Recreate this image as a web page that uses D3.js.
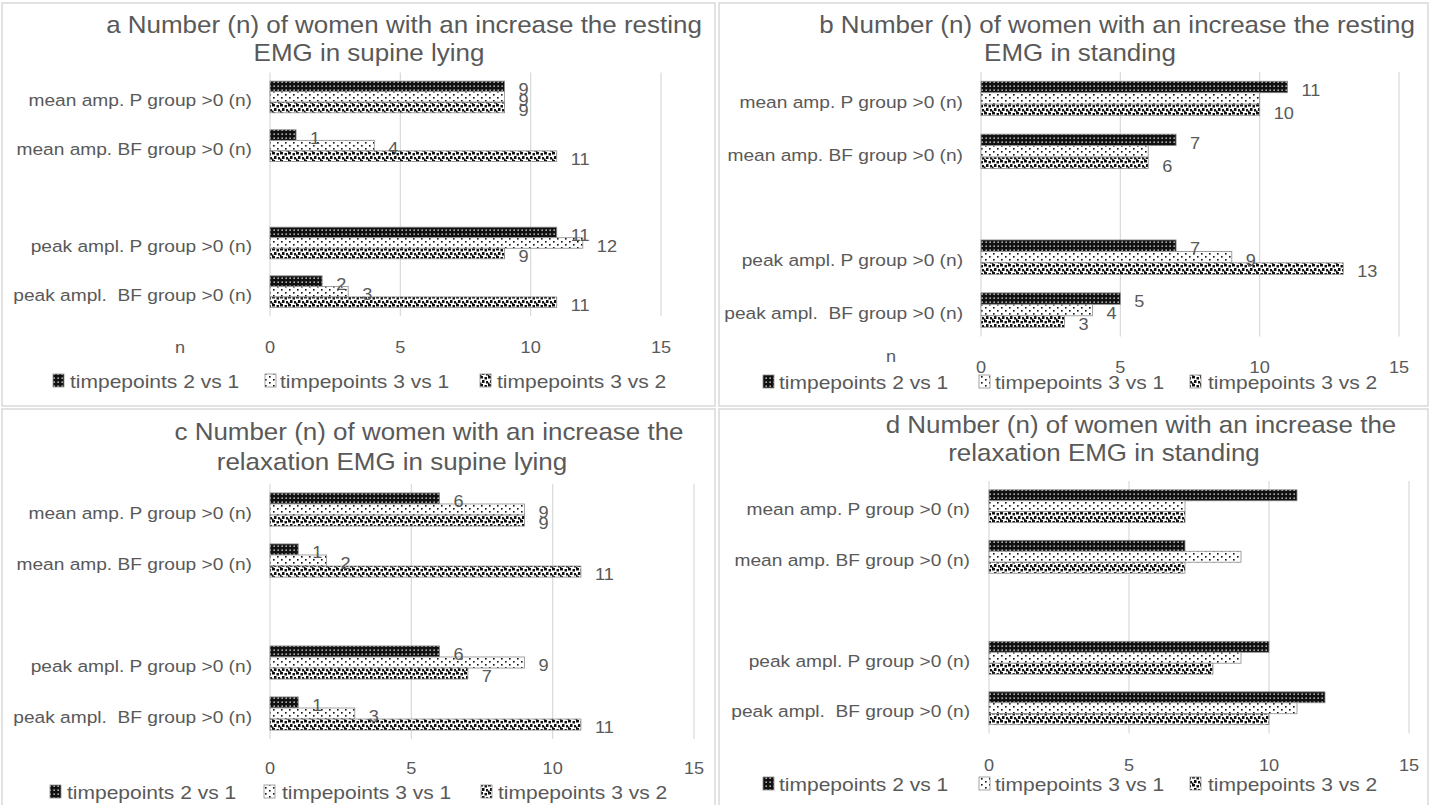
<!DOCTYPE html>
<html>
<head>
<meta charset="utf-8">
<script src="https://cdn.jsdelivr.net/npm/d3@7/dist/d3.min.js"></script>
<style>
  body { margin: 0; background: #fff; }
  svg { display: block; font-family: "Liberation Sans", Arial, sans-serif; }
  text { fill: #595959; white-space: pre; }
</style>
</head>
<body>
<svg width="1431" height="805"></svg>
<script>
// categories and series
const categories = ["mean amp. P group >0 (n)", "mean amp. BF group >0 (n)", "peak ampl. P group >0 (n)", "peak ampl.  BF group >0 (n)"];
const seriesNames = ["timpepoints 2 vs 1", "timpepoints 3 vs 1", "timpepoints 3 vs 2"];
const xTicks = [0, 5, 10, 15];

// a - resting EMG, supine lying
const aTitle = ["a Number (n) of women with an increase the resting", "EMG in supine lying"];
const a21 = [9, 1, 11, 2];
const a31 = [9, 4, 12, 3];
const a32 = [9, 11, 9, 11];

// b - resting EMG, standing
const bTitle = ["b Number (n) of women with an increase the resting", "EMG in standing"];
const b21 = [11, 7, 7, 5];
const b31 = [10, 6, 9, 4];
const b32 = [10, 6, 13, 3];
const bLabelMask = [[1, 1, 1, 1], [0, 0, 1, 1], [1, 1, 1, 1]];

// c - relaxation EMG, supine lying
const cTitle = ["c Number (n) of women with an increase the", "relaxation EMG in supine lying"];
const c21 = [6, 1, 6, 1];
const c31 = [9, 2, 9, 3];
const c32 = [9, 11, 7, 11];

// d - relaxation EMG, standing (no data labels)
const dTitle = ["d Number (n) of women with an increase the", "relaxation EMG in standing"];
const d21 = [11, 7, 10, 12];
const d31 = [7, 9, 9, 11];
const d32 = [7, 7, 8, 10];

const svg = d3.select("svg");
const gridCol = "#d9d9d9";
const sx = 1.1; // text in the picture is a little wider than the font

// text helper, slightly stretched horizontally
function addText(parent, x, y, str, size, anchor) {
    return parent.append("g")
        .attr("transform", "translate(" + x + "," + y + ") scale(" + sx + ",1)")
        .append("text")
        .attr("text-anchor", anchor || "start")
        .attr("dominant-baseline", "central")
        .style("font-size", size + "px")
        .text(str);
}

//patterns for the three series
const defs = svg.append("defs");
const p1 = defs.append("pattern").attr("id", "pat0").attr("patternUnits", "userSpaceOnUse")
    .attr("width", 4).attr("height", 4);
p1.append("rect").attr("width", 4).attr("height", 4).attr("fill", "#111");
p1.append("rect").attr("x", 1.5).attr("y", 1.5).attr("width", 1.3).attr("height", 1.3).attr("fill", "#fff");

const p2 = defs.append("pattern").attr("id", "pat1").attr("patternUnits", "userSpaceOnUse")
    .attr("width", 8).attr("height", 6);
p2.append("rect").attr("width", 8).attr("height", 6).attr("fill", "#fff");
p2.append("rect").attr("x", 1).attr("y", 1).attr("width", 1.6).attr("height", 1.6).attr("fill", "#111");
p2.append("rect").attr("x", 5).attr("y", 4).attr("width", 1.6).attr("height", 1.6).attr("fill", "#111");

const p3 = defs.append("pattern").attr("id", "pat2").attr("patternUnits", "userSpaceOnUse")
    .attr("width", 8).attr("height", 8);
p3.append("rect").attr("width", 8).attr("height", 8).attr("fill", "#fff");
[[0, 0, 3, 2.5], [4.5, 1, 2.5, 2.5], [2, 4, 2.5, 3], [6, 5, 2, 2.5], [0, 6.5, 1.5, 1.5]].forEach(s => {
    p3.append("rect").attr("x", s[0]).attr("y", s[1]).attr("width", s[2]).attr("height", s[3]).attr("fill", "#111");
});

const panels = [
    { title: aTitle, series: [a21, a31, a32], mask: null, frame: [2, 3, 713, 403],
      xr: [270, 661], yr: [72.6, 316], labelRight: 252,
      titlePos: [[404, 25], [369, 53]], tickY: 347, nPos: [180, 347],
      legY: 381, legSw: [53, 265, 480], legTx: [70, 280, 497] },
    { title: bTitle, series: [b21, b31, b32], mask: bLabelMask, frame: [719, 3, 709, 403],
      xr: [981, 1399], yr: [72, 336.5], labelRight: 963,
      titlePos: [[1117, 25], [1080, 53]], tickY: 367, nPos: [891, 356],
      legY: 382, legSw: [763, 979, 1190], legTx: [779, 995, 1208] },
    { title: cTitle, series: [c21, c31, c32], mask: null, frame: [2, 409, 713, 400],
      xr: [270, 694], yr: [484, 739], labelRight: 252,
      titlePos: [[429, 432], [392, 462]], tickY: 768, nPos: null,
      legY: 792, legSw: [50, 264, 481], legTx: [67, 282, 498] },
    { title: dTitle, series: [d21, d31, d32], mask: "none", frame: [719, 409, 709, 400],
      xr: [989, 1409], yr: [481, 733.5], labelRight: 970,
      titlePos: [[1141, 425], [1104, 453]], tickY: 765, nPos: null,
      legY: 784, legSw: [763, 979, 1190], legTx: [779, 995, 1208] }
];

const bandKeys = [categories[0], categories[1], "gap", categories[2], categories[3]];

panels.forEach(p => {
    const g = svg.append("g");

    // panel frame
    g.append("rect")
        .attr("x", p.frame[0]).attr("y", p.frame[1])
        .attr("width", p.frame[2]).attr("height", p.frame[3])
        .attr("fill", "#fff").attr("stroke", gridCol).attr("stroke-width", 1.5);

    const x = d3.scaleLinear().domain([0, 15]).range(p.xr);
    const y = d3.scaleBand().domain(bandKeys).range(p.yr)
        .paddingInner(0.35).paddingOuter(0.175);
    const ySub = d3.scaleBand().domain(d3.range(3)).range([0, y.bandwidth()]);

    // gridlines
    g.selectAll(".grid").data(xTicks).enter().append("line")
        .attr("x1", d => x(d)).attr("x2", d => x(d))
        .attr("y1", p.yr[0]).attr("y2", p.yr[1])
        .attr("stroke", gridCol).attr("stroke-width", 1.2);

    // tick labels
    xTicks.forEach(t => addText(g, x(t), p.tickY, t, 16.5, "middle"));

    if (p.nPos) addText(g, p.nPos[0], p.nPos[1], "n", 16.5, "middle");

    // category labels
    categories.forEach(c => {
        addText(g, p.labelRight, y(c) + y.bandwidth() / 2 + 3, c, 17.4, "end");
    });

    // bars
    const rows = [];
    p.series.forEach((vals, si) => {
        vals.forEach((v, ci) => {
            let shown = true;
            if (p.mask === "none") shown = false;
            else if (p.mask) shown = p.mask[si][ci] == 1;
            rows.push({ cat: categories[ci], s: si, v: v, shown: shown });
        });
    });

    g.selectAll(".bar").data(rows).enter().append("rect")
        .attr("x", x(0))
        .attr("y", d => y(d.cat) + ySub(d.s))
        .attr("width", d => x(d.v) - x(0))
        .attr("height", ySub.bandwidth())
        .attr("fill", d => "url(#pat" + d.s + ")")
        .attr("stroke", "#8c8c8c").attr("stroke-width", 0.8);

    // value labels
    rows.filter(d => d.shown).forEach(d => {
        addText(g, x(d.v) + 14, y(d.cat) + ySub(d.s) + ySub.bandwidth() / 2 + 3, d.v, 16.5, "start");
    });

    // title
    p.title.forEach((t, i) => addText(g, p.titlePos[i][0], p.titlePos[i][1], t, 23.6, "middle"));

    // legend
    seriesNames.forEach((name, i) => {
        g.append("rect")
            .attr("x", p.legSw[i]).attr("y", p.legY - 7)
            .attr("width", 11).attr("height", 13)
            .attr("fill", "url(#pat" + i + ")")
            .attr("stroke", "#8c8c8c").attr("stroke-width", 0.8);
        addText(g, p.legTx[i], p.legY, name, 19.1, "start");
    });
});
</script>
</body>
</html>
